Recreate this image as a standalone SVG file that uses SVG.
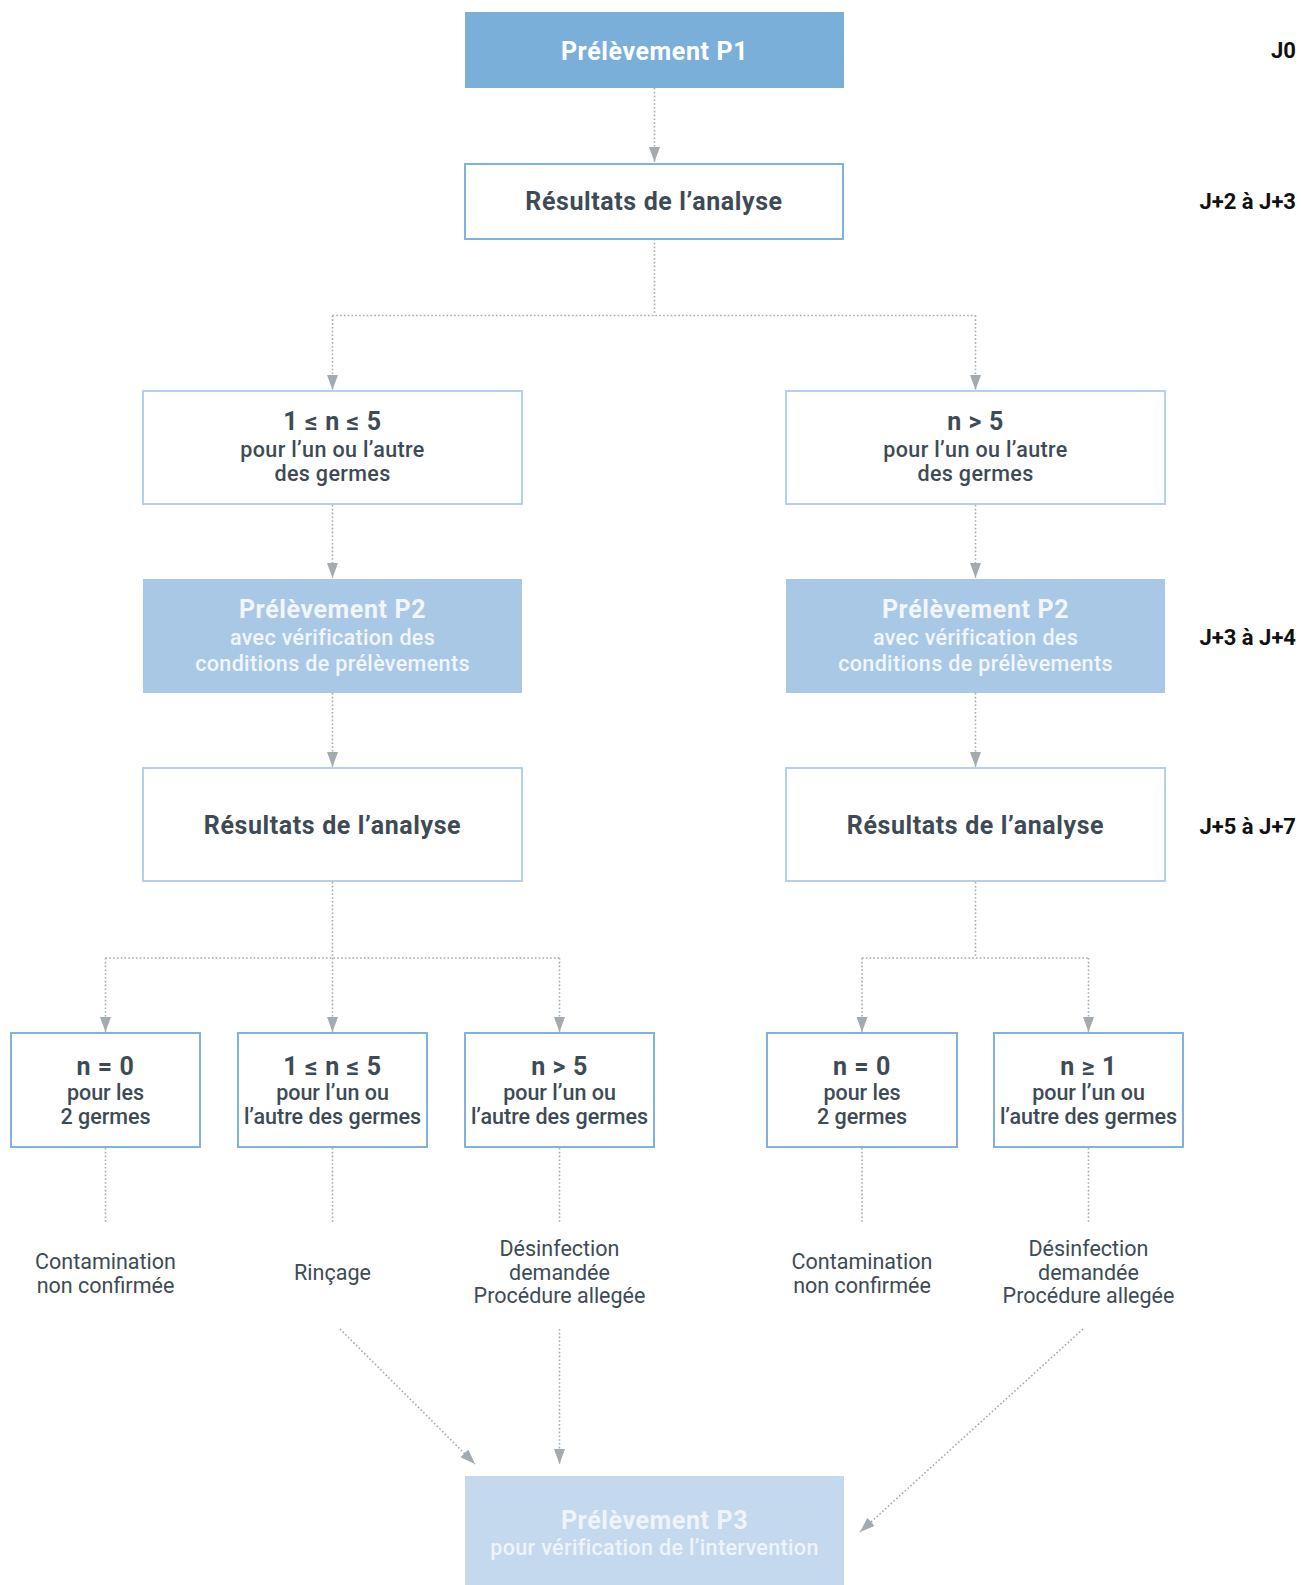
<svg xmlns="http://www.w3.org/2000/svg" width="1301" height="1585" viewBox="0 0 1301 1585">
<defs>
<marker id="arr" markerUnits="userSpaceOnUse" markerWidth="15" markerHeight="11" viewBox="0 0 15 11" refX="15" refY="5.5" orient="auto">
<path d="M0,0 L15,5.5 L0,11 Z" fill="#a3abb1"/>
</marker>
<style>
.t{font-family:Roboto,"Liberation Sans",sans-serif;text-anchor:middle;fill:#3e4b55}
.h{font-size:25px;font-weight:700;letter-spacing:0.6px}
.s{font-size:21.5px;font-weight:500;letter-spacing:0.35px}
.s0{font-size:21.5px;font-weight:500}
.l{font-size:21.5px;font-weight:400}
.w{fill:#ffffff}
.w2{fill:#f1f6fb}
.w3{fill:#eef4fa}
.j{font-family:Roboto,"Liberation Sans",sans-serif;font-size:22px;font-weight:700;text-anchor:end;fill:#111111}
.b1{fill:#ffffff;stroke:#80b2dd;stroke-width:2}
.b2{fill:#ffffff;stroke:#b3d1ec;stroke-width:2}
.c{fill:none;stroke:#a3abb1;stroke-width:1.6;stroke-dasharray:1.6 2.2}
.ca{fill:none;stroke:#a3abb1;stroke-width:1.6;stroke-dasharray:1.6 2.2;marker-end:url(#arr)}
</style>
</defs>
<rect width="1301" height="1585" fill="#ffffff"/>

<g id="connectors">
<line class="ca" x1="654.5" y1="88" x2="654.5" y2="162"/>
<path class="c" d="M654.5,239 V315.5 M332.5,315.5 H975.5"/>
<line class="ca" x1="332.5" y1="315.5" x2="332.5" y2="390"/>
<line class="ca" x1="975.5" y1="315.5" x2="975.5" y2="390"/>
<line class="ca" x1="332.5" y1="505" x2="332.5" y2="578"/>
<line class="ca" x1="975.5" y1="505" x2="975.5" y2="578"/>
<line class="ca" x1="332.5" y1="693" x2="332.5" y2="767"/>
<line class="ca" x1="975.5" y1="693" x2="975.5" y2="767"/>
<path class="c" d="M332.5,882 V958 M105.5,958 H559.5 M975.5,882 V958 M862,958 H1088.5"/>
<line class="ca" x1="105.5" y1="958" x2="105.5" y2="1032"/>
<line class="ca" x1="332.5" y1="958" x2="332.5" y2="1032"/>
<line class="ca" x1="559.5" y1="958" x2="559.5" y2="1032"/>
<line class="ca" x1="862" y1="958" x2="862" y2="1032"/>
<line class="ca" x1="1088.5" y1="958" x2="1088.5" y2="1032"/>
<path class="c" d="M105.5,1148 V1222 M332.5,1148 V1222 M559.5,1148 V1222 M862,1148 V1222 M1088.5,1148 V1222"/>
<line class="ca" x1="340" y1="1329" x2="475" y2="1464"/>
<line class="ca" x1="559.5" y1="1329" x2="559.5" y2="1464"/>
<line class="ca" x1="1083" y1="1329" x2="860" y2="1532"/>
</g>

<g id="p1">
<rect x="465" y="12" width="379" height="76" fill="#7aafda"/>
<text class="t h w" x="654.5" y="60">Prélèvement P1</text>
</g>
<g id="res1">
<rect class="b1" x="465" y="164" width="378" height="75"/>
<text class="t h" x="654" y="210">Résultats de l’analyse</text>
</g>

<g id="left-n15">
<rect class="b2" x="143" y="391" width="379" height="113"/>
<text class="t h" x="332.5" y="430">1 ≤ n ≤ 5</text>
<text class="t s" x="332.5" y="457">pour l’un ou l’autre</text>
<text class="t s" x="332.5" y="481">des germes</text>
</g>
<g id="right-n5">
<rect class="b2" x="786" y="391" width="379" height="113"/>
<text class="t h" x="975.5" y="430">n &gt; 5</text>
<text class="t s" x="975.5" y="457">pour l’un ou l’autre</text>
<text class="t s" x="975.5" y="481">des germes</text>
</g>

<g id="left-p2">
<rect x="143" y="579" width="379" height="114" fill="#a9c8e6"/>
<text class="t h w2" x="332.5" y="618">Prélèvement P2</text>
<text class="t s w2" x="332.5" y="645">avec vérification des</text>
<text class="t s w2" x="332.5" y="671">conditions de prélèvements</text>
</g>
<g id="right-p2">
<rect x="786" y="579" width="379" height="114" fill="#a9c8e6"/>
<text class="t h w2" x="975.5" y="618">Prélèvement P2</text>
<text class="t s w2" x="975.5" y="645">avec vérification des</text>
<text class="t s w2" x="975.5" y="671">conditions de prélèvements</text>
</g>

<g id="left-res2">
<rect class="b2" x="143" y="768" width="379" height="113"/>
<text class="t h" x="332.5" y="834">Résultats de l’analyse</text>
</g>
<g id="right-res2">
<rect class="b2" x="786" y="768" width="379" height="113"/>
<text class="t h" x="975.5" y="834">Résultats de l’analyse</text>
</g>

<g id="b-l1">
<rect class="b1" x="11" y="1033" width="189" height="114"/>
<text class="t h" x="105.5" y="1075">n = 0</text>
<text class="t s0" x="105.5" y="1100">pour les</text>
<text class="t s0" x="105.5" y="1124">2 germes</text>
</g>
<g id="b-l2">
<rect class="b1" x="238" y="1033" width="189" height="114"/>
<text class="t h" x="332.5" y="1075">1 ≤ n ≤ 5</text>
<text class="t s0" x="332.5" y="1100">pour l’un ou</text>
<text class="t s0" x="332.5" y="1124">l’autre des germes</text>
</g>
<g id="b-l3">
<rect class="b1" x="465" y="1033" width="189" height="114"/>
<text class="t h" x="559.5" y="1075">n &gt; 5</text>
<text class="t s0" x="559.5" y="1100">pour l’un ou</text>
<text class="t s0" x="559.5" y="1124">l’autre des germes</text>
</g>
<g id="b-r1">
<rect class="b1" x="767" y="1033" width="190" height="114"/>
<text class="t h" x="862" y="1075">n = 0</text>
<text class="t s0" x="862" y="1100">pour les</text>
<text class="t s0" x="862" y="1124">2 germes</text>
</g>
<g id="b-r2">
<rect class="b1" x="994" y="1033" width="189" height="114"/>
<text class="t h" x="1088.5" y="1075">n ≥ 1</text>
<text class="t s0" x="1088.5" y="1100">pour l’un ou</text>
<text class="t s0" x="1088.5" y="1124">l’autre des germes</text>
</g>

<g id="outcome-l1">
<text class="t l" x="105.5" y="1269">Contamination</text>
<text class="t l" x="105.5" y="1293">non confirmée</text>
</g>
<g id="outcome-l2">
<text class="t l" x="332.5" y="1280">Rinçage</text>
</g>
<g id="outcome-l3">
<text class="t l" x="559.5" y="1256">Désinfection</text>
<text class="t l" x="559.5" y="1280">demandée</text>
<text class="t l" x="559.5" y="1303">Procédure allegée</text>
</g>
<g id="outcome-r1">
<text class="t l" x="862" y="1269">Contamination</text>
<text class="t l" x="862" y="1293">non confirmée</text>
</g>
<g id="outcome-r2">
<text class="t l" x="1088.5" y="1256">Désinfection</text>
<text class="t l" x="1088.5" y="1280">demandée</text>
<text class="t l" x="1088.5" y="1303">Procédure allegée</text>
</g>

<g id="p3">
<rect x="465" y="1476" width="379" height="109" fill="#c4d9ee"/>
<text class="t h w3" x="654.5" y="1529">Prélèvement P3</text>
<text class="t s w3" x="654.5" y="1555">pour vérification de l’intervention</text>
</g>

<g id="timeline">
<text class="j" x="1296" y="58">J0</text>
<text class="j" x="1296" y="209">J+2 à J+3</text>
<text class="j" x="1296" y="645">J+3 à J+4</text>
<text class="j" x="1296" y="834">J+5 à J+7</text>
</g>
</svg>
